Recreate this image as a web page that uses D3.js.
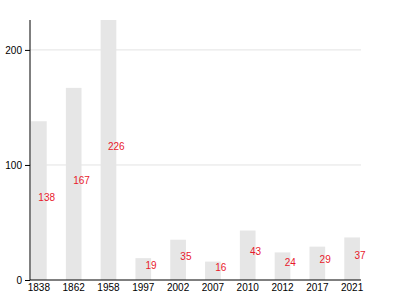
<!DOCTYPE html>
<html>
<head>
<meta charset="utf-8">
<script src="https://cdn.jsdelivr.net/npm/d3@7"></script>
<style>
  body { margin: 0; background: #fff; }
  svg { display: block; font-family: "Liberation Sans", Arial, sans-serif; }
</style>
</head>
<body>
<svg id="chart" width="400" height="300"></svg>
<script>
// 연도별 값
const years = ['1838', '1862', '1958', '1997', '2002', '2007', '2010', '2012', '2017', '2021'];
const values = [138, 167, 226, 19, 35, 16, 43, 24, 29, 37];
const yTicks = [0, 100, 200];

const svg = d3.select('#chart');
const M = { left: 30, right: 39, top: 20, bottom: 20 };
const W = 400, H = 300;

const x = d3.scaleBand().domain(years)
  .range([M.left, W - M.right])
  .paddingInner(0.55).paddingOuter(0.03);
const y = d3.scaleLinear().domain([0, d3.max(values)]).range([H - M.bottom, M.top]);

// 그리드
svg.append('g').selectAll('line')
  .data(yTicks.filter(t => t > 0))
  .join('line')
  .attr('x1', M.left).attr('x2', W - M.right)
  .attr('y1', d => y(d)).attr('y2', d => y(d))
  .attr('stroke', '#e3e3e3').attr('stroke-width', 1);

// 막대
const data = years.map((k, i) => ({ k, v: values[i] }));
svg.append('g').selectAll('rect')
  .data(data)
  .join('rect')
  .attr('x', d => x(d.k))
  .attr('width', x.bandwidth())
  .attr('y', d => y(d.v))
  .attr('height', d => y(0) - y(d.v))
  .attr('fill', '#e6e6e6');

// 값 라벨
svg.append('g').selectAll('text')
  .data(data)
  .join('text')
  .attr('x', d => x(d.k) + x.bandwidth())
  .attr('y', d => y(d.v / 2))
  .attr('text-anchor', 'middle')
  .attr('font-size', 10)
  .attr('fill', '#e8192c')
  .text(d => d.v);

// 축
const yAxis = svg.append('g')
  .attr('transform', `translate(${M.left},0)`)
  .call(d3.axisLeft(y).tickValues(yTicks).tickSize(5).tickSizeOuter(0));
yAxis.select('.domain').attr('d', `M0,${M.top}V${H - M.bottom}`);
yAxis.selectAll('text').attr('font-size', 10).attr('fill', '#000').attr('font-family', null);

const xAxis = svg.append('g')
  .attr('transform', `translate(0,${H - M.bottom})`)
  .call(d3.axisBottom(x).tickSize(0).tickPadding(4));
xAxis.select('.domain').attr('d', `M${M.left},0H${W - M.right}`);
xAxis.selectAll('text').attr('font-size', 10).attr('fill', '#000').attr('font-family', null);
</script>
</body>
</html>
